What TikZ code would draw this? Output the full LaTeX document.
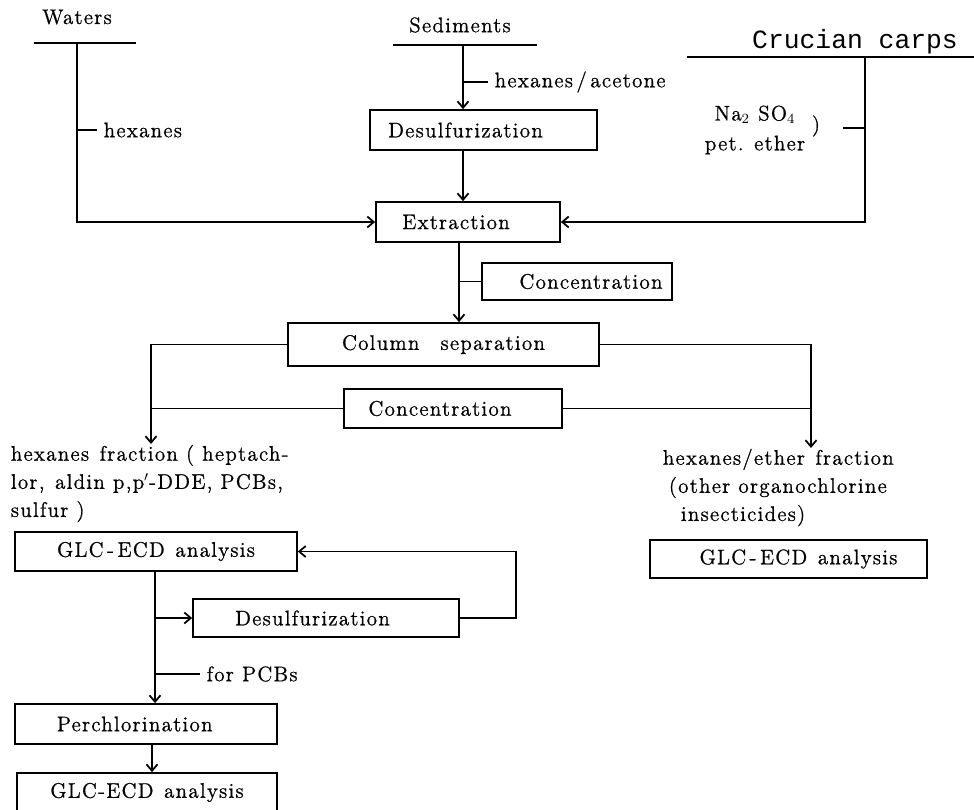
\documentclass[tikz,border=0pt]{standalone}
\usepackage{fontspec}
\setmainfont{lmroman12-regular.otf}[BoldFont=lmroman12-bold.otf, LetterSpace=6, FakeBold=0.9]
\setmonofont{Liberation Mono}
\usetikzlibrary{arrows.meta}

\begin{document}
\begin{tikzpicture}[x=0.02cm, y=-0.02cm, line width=1pt, >={Straight Barb[length=1.3mm,width=2.2mm]},
    every node/.style={font=\fontsize{12}{16}\selectfont},
    box/.style={draw, rectangle, inner sep=0pt, minimum height=0.8cm}]

        \useasboundingbox (0,0) rectangle (974,809);

        % amostras
        \node (waters) at (77,17) {Waters};
        \node (sedim) at (460,25) {Sediments};
        \node[font=\fontsize{15}{18}\selectfont\ttfamily] (carps) at (855,42) {Crucian carps};

        \coordinate (wat) at (77,43);
        \coordinate (sed) at (463,45);
        \coordinate (carp) at (865,57);
        \coordinate (ex) at (459,0);
        \coordinate (lft) at (151,0);
        \coordinate (rgt) at (811,0);
        \coordinate (lv) at (155,0);
        \coordinate (pv) at (152,0);

        % caixas
        \node[box, minimum width=4.54cm] (desA) at (483.5,130) {Desulfurization\hspace{0.72cm}\mbox{}};
        \node[box, minimum width=3.68cm] (extr) at (468,222) {Extraction\hspace{0.48cm}\mbox{}};
        \node[box, minimum width=3.8cm, minimum height=0.74cm] (concA) at (577,281.5) {\hspace{0.56cm}Concentration};
        \node[box, minimum width=6.22cm, minimum height=0.86cm] (colsep) at (443.5,344.5) {Column\quad separation};
        \node[box, minimum width=4.36cm, minimum height=0.78cm] (concB) at (453,408.5) {Concentration\hspace{0.52cm}\mbox{}};
        \node[box, minimum width=5.54cm, minimum height=0.76cm] (glcR) at (788.5,559) {\hspace{0.4cm}GLC\,-\,ECD\enspace analysis};
        \node[box, minimum width=5.64cm, minimum height=0.78cm] (glcA) at (156,551.5) {GLC\,-\,ECD\enspace analysis};
        \node[box, minimum width=5.32cm, minimum height=0.76cm] (desB) at (326,618) {Desulfurization\hspace{0.54cm}\mbox{}};
        \node[box, minimum width=5.24cm] (perch) at (146,724) {Perchlorination\hspace{0.45cm}\mbox{}};
        \node[box, minimum width=5.2cm, minimum height=0.78cm] (glcB) at (147,792.5) {GLC-ECD\enspace analysis};

        % fracoes
        \node[align=left, anchor=north west, inner sep=0pt] (fracL) at (10,444)
            {hexanes\enspace fraction ( heptach-\\lor,\enspace aldin p,p$'$-DDE, PCBs,\\sulfur )};
        \node[align=left, anchor=north west, inner sep=0pt] (fracR) at (662,448)
            {hexanes/ether\enspace fraction\\\hspace*{0.12cm}(other organochlorine\\\hspace*{0.36cm}insecticides)};
        \node[align=center, font=\fontsize{12}{17}\selectfont] (naso) at (755,130) {Na$_2$ SO$_4$\\pet.\enspace ether};
        \node (paren) at (816,126) {)};

        % linhas das amostras
        \draw (34,43) -- (136,43);
        \draw (393,45) -- (537,45);
        \draw (687,57) -- (974,57);

        \draw[->] (wat) |- (extr.west);
        \draw (77,130) -- ++(20,0) node[right] (hexW) {hexanes};

        \draw[->] (sed) -- (sed |- desA.north);
        \draw (463,82) -- ++(25,0) node[right] (hexAc) {hexanes\,/\,acetone};
        \draw[->] (desA.south -| sed) -- (extr.north -| sed);

        \draw[->] (carp) |- (extr.east);
        \draw (865,128) -- (843,128);

        % extracao e coluna
        \draw[->] (extr.south -| ex) -- (colsep.north -| ex);
        \draw (concA.west -| ex) -- (concA.west);

        \draw[->] (colsep.west) -| (fracL.north -| lft);
        \draw (concB.west) -- (concB.west -| lft);
        \draw[->] (colsep.east) -| (fracR.north -| rgt);
        \draw (concB.east) -- (concB.east -| rgt);

        % ramo dos hexanos
        \draw[->] (glcA.south -| lv) -- (perch.north -| lv);
        \draw[->] (desB.west -| lv) -- (desB.west);
        \draw[->] (desB.east) -- ++(56,0) |- (glcA.east);
        \draw (155,674) -- ++(45,0) node[right] (pcbs) {for PCBs};
        \draw[->] (perch.south -| pv) -- (glcB.north -| pv);
    \end{tikzpicture}
\end{document}
